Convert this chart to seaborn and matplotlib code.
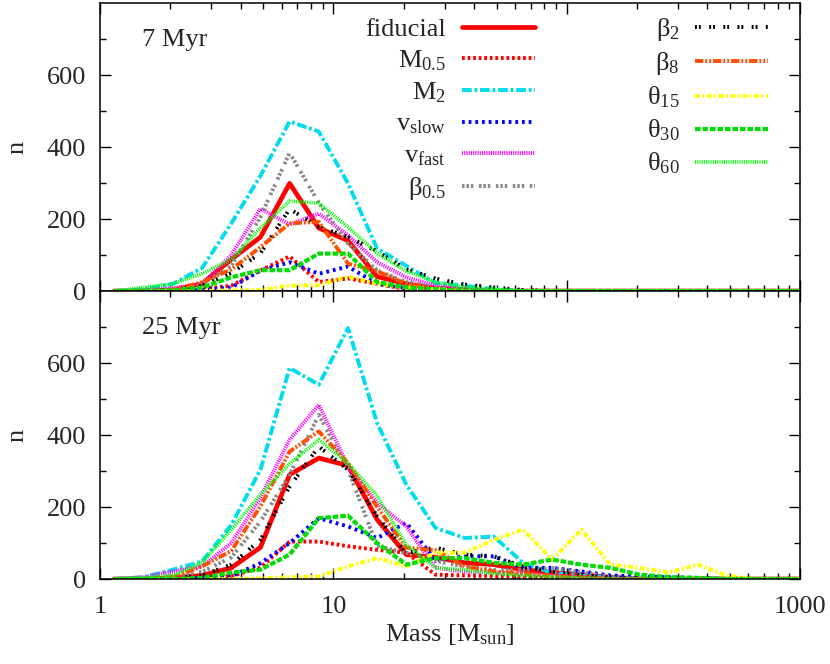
import numpy as np
import pandas as pd
import seaborn as sns
import matplotlib.pyplot as plt
from matplotlib.ticker import FixedLocator, NullFormatter

sns.set_style("ticks")
plt.rcParams['font.family'] = ['Liberation Serif', 'DejaVu Serif']
plt.rcParams['mathtext.fontset'] = 'custom'
plt.rcParams['mathtext.rm'] = 'Liberation Serif'
plt.rcParams['mathtext.default'] = 'regular'
plt.rcParams['lines.scale_dashes'] = False

# mass bin centres (8 bins per decade)
mass = [1.155, 1.54, 2.054, 2.738, 3.652, 4.87, 6.494, 8.66, 11.55, 15.4,
        20.54, 27.38, 36.52, 48.7, 64.94, 86.6, 115.5, 154.0, 205.4, 273.8,
        365.2, 487.0, 649.4, 866.0, 1155.0]

labels = ['fiducial', 'M$_{0.5}$', 'M$_2$', 'v$_{slow}$', 'v$_{fast}$', 'β$_{0.5}$',
          'β$_2$', 'β$_8$', 'θ$_{15}$', 'θ$_{30}$', 'θ$_{60}$']

# 7 Myr
fid_7 = [0, 0, 3, 20, 88, 150, 299, 175, 140, 40, 20, 8, 4, 0, 0, 0, 0, 0, 0, 0, 0, 0, 0, 0, 0]
m05_7 = [0, 0, 2, 5, 15, 57, 96, 25, 35, 20, 5, 2, 0, 0, 0, 0, 0, 0, 0, 0, 0, 0, 0, 0, 0]
m2_7 = [0, 5, 20, 64, 188, 320, 471, 443, 299, 118, 70, 22, 15, 5, 0, 0, 0, 0, 0, 0, 0, 0, 0, 0, 0]
vslow_7 = [0, 0, 0, 3, 10, 57, 80, 48, 68, 20, 8, 3, 0, 0, 0, 0, 0, 0, 0, 0, 0, 0, 0, 0, 0]
vfast_7 = [0, 3, 8, 20, 100, 229, 185, 215, 155, 80, 38, 15, 5, 0, 0, 0, 0, 0, 0, 0, 0, 0, 0, 0, 0]
b05_7 = [0, 2, 5, 20, 70, 206, 384, 245, 132, 57, 25, 10, 5, 0, 0, 0, 0, 0, 0, 0, 0, 0, 0, 0, 0]
b2_7 = [0, 0, 2, 15, 50, 105, 228, 178, 150, 110, 60, 35, 18, 10, 3, 0, 0, 0, 0, 0, 0, 0, 0, 0, 0]
b8_7 = [0, 0, 3, 25, 60, 122, 188, 192, 76, 55, 20, 5, 0, 0, 0, 0, 0, 0, 0, 0, 0, 0, 0, 0, 0]
t15_7 = [0, 0, 0, 0, 2, 3, 15, 16, 40, 20, 10, 5, 0, 0, 0, 0, 0, 0, 0, 0, 0, 0, 0, 0, 0]
t30_7 = [0, 0, 2, 10, 38, 58, 58, 104, 104, 25, 10, 5, 0, 0, 0, 0, 0, 0, 0, 0, 0, 0, 0, 0, 0]
t60_7 = [0, 10, 20, 48, 88, 175, 250, 244, 178, 105, 55, 25, 10, 5, 0, 0, 0, 0, 0, 0, 0, 0, 0, 0, 0]

# 25 Myr
fid_25 = [0, 0, 3, 10, 31, 88, 290, 336, 315, 165, 68, 60, 45, 40, 26, 18, 12, 5, 0, 0, 0, 0, 0, 0, 0]
m05_25 = [0, 0, 2, 5, 8, 32, 104, 104, 91, 81, 73, 12, 10, 8, 5, 3, 0, 0, 0, 0, 0, 0, 0, 0, 0]
m2_25 = [0, 5, 26, 49, 150, 304, 586, 540, 697, 433, 262, 142, 114, 118, 45, 17, 10, 5, 0, 0, 0, 0, 0, 0, 0]
vslow_25 = [0, 0, 0, 3, 8, 44, 100, 169, 146, 114, 156, 52, 63, 63, 31, 31, 21, 10, 7, 5, 3, 0, 0, 0, 0]
vfast_25 = [0, 5, 21, 35, 100, 226, 387, 484, 313, 211, 146, 31, 21, 18, 15, 10, 5, 3, 0, 0, 0, 0, 0, 0, 0]
b05_25 = [0, 2, 8, 20, 60, 160, 290, 456, 304, 91, 73, 50, 35, 25, 25, 30, 20, 5, 0, 0, 0, 0, 0, 0, 0]
b2_25 = [0, 0, 3, 10, 40, 109, 257, 368, 304, 174, 73, 87, 68, 63, 35, 20, 10, 5, 0, 0, 0, 0, 0, 0, 0]
b8_25 = [0, 0, 5, 35, 78, 202, 354, 410, 322, 200, 87, 80, 35, 21, 15, 10, 5, 0, 0, 0, 0, 0, 0, 0, 0]
t15_25 = [0, 0, 0, 0, 0, 2, 5, 7, 35, 58, 35, 73, 73, 109, 137, 54, 137, 40, 31, 18, 40, 9, 0, 0, 0]
t30_25 = [0, 0, 0, 3, 18, 26, 68, 169, 176, 100, 40, 58, 58, 45, 40, 54, 40, 31, 12, 5, 3, 0, 0, 0, 0]
t60_25 = [0, 3, 10, 45, 137, 235, 320, 387, 322, 230, 95, 31, 25, 15, 10, 5, 3, 0, 0, 0, 0, 0, 0, 0, 0]

panels = [
    ('7 Myr', [fid_7, m05_7, m2_7, vslow_7, vfast_7, b05_7, b2_7, b8_7, t15_7, t30_7, t60_7]),
    ('25 Myr', [fid_25, m05_25, m2_25, vslow_25, vfast_25, b05_25, b2_25, b8_25, t15_25, t30_25, t60_25]),
]

# colour, dash pattern (points), width
styles = [
    ('#ff0000', '-', 3.4),
    ('#ff0000', (0, (2.0, 2.0)), 2.8),
    ('#00dcec', (0, (7, 2.0, 2.0, 2.0)), 2.8),
    ('#0000ff', (0, (2.0, 2.8)), 2.8),
    ('#ff00ff', (0, (0.8, 0.8)), 2.8),
    ('#888888', (0, (1.8, 1.4, 1.8, 1.4, 1.8, 4.0)), 2.8),
    ('#000000', (0, (1.4, 1.4, 1.4, 6)), 2.8),
    ('#ff4f00', (0, (6, 1.4, 1.4, 1.4, 1.4, 1.4)), 2.8),
    ('#ffff00', (0, (3.5, 1.8, 1.4, 1.8)), 2.8),
    ('#00dd00', (0, (4, 1.4)), 3.0),
    ('#00ff00', (0, (0.8, 0.8)), 2.6),
]

fs = 19
fig = plt.figure(figsize=(8.3, 6.64), dpi=100)
ax_top = fig.add_axes([0.1205, 0.5617, 0.8435, 0.4337])
ax_bot = fig.add_axes([0.1205, 0.128, 0.8435, 0.4337])

for ax, (title, series) in zip([ax_top, ax_bot], panels):
    for lab, vals, (col, ls, lw) in zip(labels, series, styles):
        df = pd.DataFrame({'mass': mass, 'n': vals})
        sns.lineplot(data=df, x='mass', y='n', ax=ax, color=col, linestyle=ls,
                     linewidth=lw, label=lab, legend=False)
    ax.set_xscale('log')
    ax.set_xlim(1, 1000)
    ax.set_ylim(0, 800)
    ax.yaxis.set_major_locator(FixedLocator([0, 200, 400, 600]))
    ax.yaxis.set_minor_locator(FixedLocator([100, 300, 500, 700]))
    ax.set_xticks([1, 10, 100, 1000])
    ax.set_xticklabels(['1', '10', '100', '1000'])
    ax.tick_params(which='both', direction='in', top=True, right=True,
                   labelsize=fs, width=1, color='black')
    ax.tick_params(which='major', length=8, pad=10)
    ax.tick_params(axis='x', which='major', pad=12)
    ax.tick_params(which='minor', length=4.5)
    for sp in ax.spines.values():
        sp.set_linewidth(1.1)
        sp.set_color('black')
    ax.set_ylabel('n', fontsize=fs)
    ax.yaxis.set_label_coords(-0.102, 0.5)
    ax.text(0.06, 0.87, title, transform=ax.transAxes, fontsize=fs, va='center', ha='left')

ax_top.xaxis.set_major_formatter(NullFormatter())
ax_top.xaxis.set_minor_formatter(NullFormatter())
ax_top.set_xlabel('')
ax_bot.xaxis.set_minor_formatter(NullFormatter())
ax_bot.set_xlabel('Mass [M$_{sun}$]', fontsize=fs)
ax_bot.xaxis.set_label_coords(0.5, -0.15)

handles = ax_top.get_lines()[:len(labels)]
ax_top.legend(handles, labels, loc='upper right', bbox_to_anchor=(0.954, 0.955),
              ncol=2, frameon=False, markerfirst=False, fontsize=fs,
              handlelength=2.75, handletextpad=0.6, columnspacing=4.25,
              labelspacing=0.28, borderaxespad=0, borderpad=0)

fig.savefig('out.png', dpi=100)
